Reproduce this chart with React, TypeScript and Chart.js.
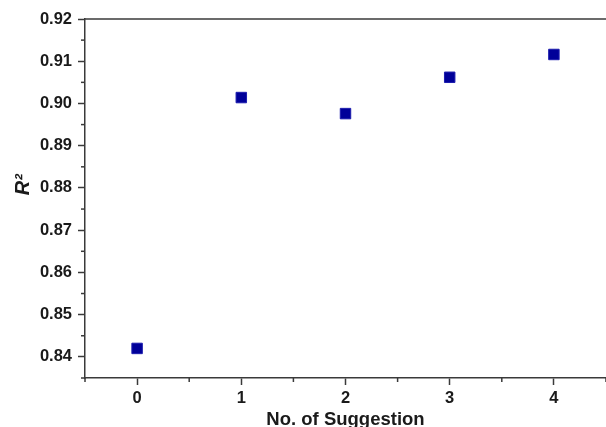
import React, { useEffect, useRef } from "react";
import { Chart, registerables } from "chart.js";

Chart.register(...registerables);

const suggestions: number[] = [0, 1, 2, 3, 4];
const r2Values: number[] = [0.842, 0.9014, 0.8976, 0.9062, 0.9116];
const xTitle = "No. of Suggestion";
const yTitle = "R\u00B2";

const AXIS_COLOR = "#3a3a3a";
const TEXT_COLOR = "#1a1a1a";
const FONT = "'Liberation Sans', Arial, sans-serif";

const isMajorY = (v: number) => Math.abs(v * 100 - Math.round(v * 100)) < 1e-6;
const isMajorX = (v: number) => Math.abs(v - Math.round(v)) < 1e-6;

const frameAndMinorTicks = {
  id: "frameAndMinorTicks",
  afterDraw(chart: any) {
    const { ctx, chartArea, scales } = chart;
    ctx.save();
    ctx.strokeStyle = AXIS_COLOR;
    ctx.lineWidth = 1.5;
    // top frame line
    ctx.beginPath();
    ctx.moveTo(chartArea.left, chartArea.top);
    ctx.lineTo(chartArea.right + 2, chartArea.top);
    ctx.stroke();
    // minor ticks
    const minorLen = 4;
    scales.x.ticks.forEach((t: any) => {
      if (isMajorX(t.value)) return;
      const px = scales.x.getPixelForValue(t.value);
      ctx.beginPath();
      ctx.moveTo(px, chartArea.bottom);
      ctx.lineTo(px, chartArea.bottom + minorLen);
      ctx.stroke();
    });
    scales.y.ticks.forEach((t: any) => {
      if (isMajorY(t.value)) return;
      const py = scales.y.getPixelForValue(t.value);
      ctx.beginPath();
      ctx.moveTo(chartArea.left, py);
      ctx.lineTo(chartArea.left - minorLen, py);
      ctx.stroke();
    });
    ctx.restore();
  },
};

export default function App() {
  const canvasRef = useRef<HTMLCanvasElement | null>(null);

  useEffect(() => {
    if (!canvasRef.current) return;
    const chart = new Chart(canvasRef.current, {
      type: "scatter",
      data: {
        datasets: [
          {
            label: "R2",
            data: suggestions.map((x, i) => ({ x, y: r2Values[i] })),
            pointStyle: "rect",
            pointRadius: 7.4,
            pointHoverRadius: 7.4,
            backgroundColor: "#000099",
            borderColor: "#1c1cae",
            borderWidth: 1,
          },
        ],
      },
      options: {
        animation: false,
        responsive: false,
        maintainAspectRatio: false,
        devicePixelRatio: 1,
        layout: { autoPadding: false, padding: { top: 19, right: 0, left: 0, bottom: 0 } },
        plugins: {
          legend: { display: false },
          tooltip: { enabled: false },
        },
        scales: {
          x: {
            type: "linear",
            min: -0.5,
            max: 4.5,
            afterFit: (scale: any) => {
              scale.height = 49;
              scale.paddingLeft = 0;
              scale.paddingRight = 0;
            },
            ticks: {
              stepSize: 0.5,
              autoSkip: false,
              maxRotation: 0,
              padding: 4,
              color: TEXT_COLOR,
              font: { family: FONT, size: 16.5, weight: "bold" },
              callback: (v: any) => {
                const n = Number(v);
                return isMajorX(n) && n >= 0 ? String(Math.round(n)) : "";
              },
            },
            grid: {
              drawOnChartArea: false,
              drawTicks: true,
              tickLength: 7,
              tickWidth: 1.5,
              tickColor: (c: any) =>
                c.tick && isMajorX(c.tick.value) ? AXIS_COLOR : "rgba(0,0,0,0)",
            },
            border: { display: true, color: AXIS_COLOR, width: 1.5 },
            title: {
              display: true,
              text: xTitle,
              color: TEXT_COLOR,
              font: { family: FONT, size: 18.5, weight: "bold", lineHeight: 0.8 },
              padding: { top: 0, bottom: 0 },
            },
          },
          y: {
            type: "linear",
            min: 0.835,
            max: 0.92,
            afterFit: (scale: any) => {
              scale.width = 85;
            },
            ticks: {
              stepSize: 0.005,
              autoSkip: false,
              padding: 6,
              color: TEXT_COLOR,
              font: { family: FONT, size: 16.5, weight: "bold" },
              callback: (v: any) => {
                const n = Number(v);
                return isMajorY(n) ? n.toFixed(2) : "";
              },
            },
            grid: {
              drawOnChartArea: false,
              drawTicks: true,
              tickLength: 7,
              tickWidth: 1.5,
              tickColor: (c: any) =>
                c.tick && isMajorY(c.tick.value) ? AXIS_COLOR : "rgba(0,0,0,0)",
            },
            border: { display: true, color: AXIS_COLOR, width: 1.5 },
            title: {
              display: true,
              text: "     " + yTitle,
              color: TEXT_COLOR,
              font: { family: FONT, size: 20, weight: "bold", style: "italic" },
              padding: { top: 11, bottom: 0 },
            },
          },
        },
      },
      plugins: [frameAndMinorTicks],
    });
    return () => chart.destroy();
  }, []);

  return (
    <div style={{ position: "fixed", left: 0, top: 0, width: 606, height: 427, background: "#ffffff" }}>
      <canvas ref={canvasRef} width={606} height={427} style={{ display: "block" }} />
    </div>
  );
}
